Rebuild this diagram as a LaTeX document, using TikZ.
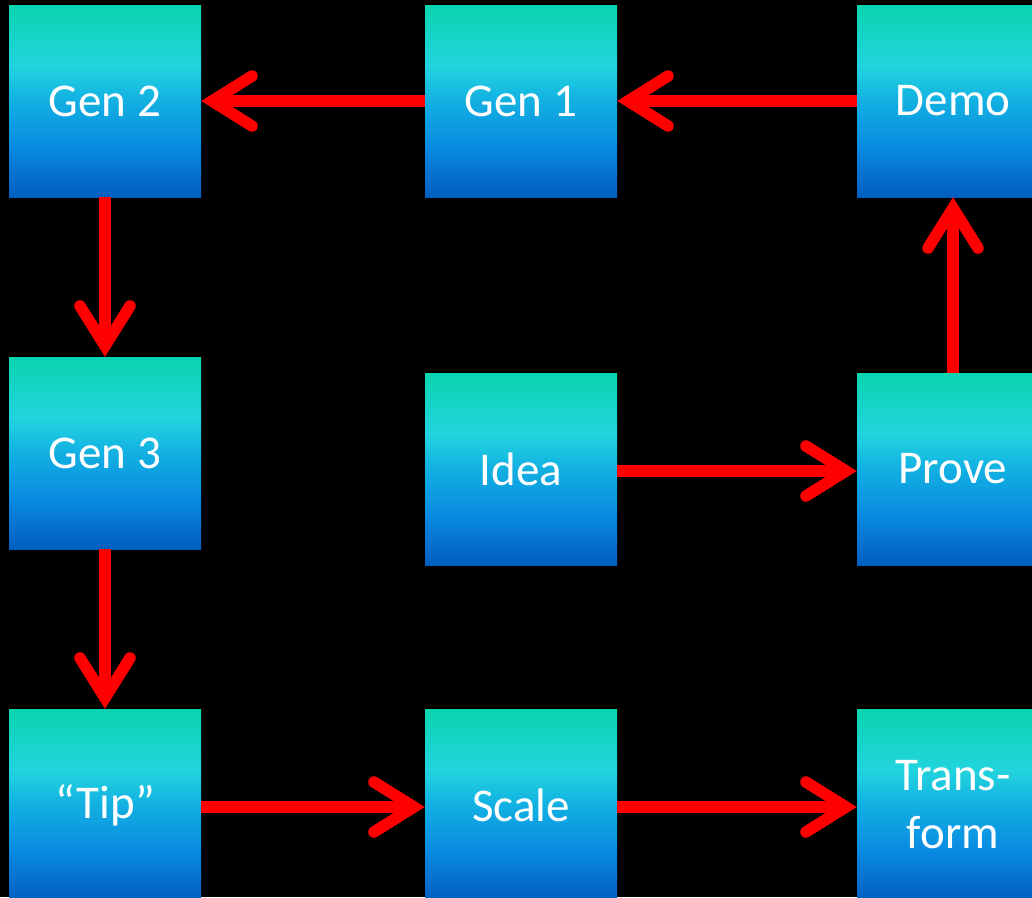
\documentclass[tikz,border=0pt]{standalone}
\usepackage{fontspec}
\setmainfont{Carlito}
\usetikzlibrary{arrows.meta}

% vertical colour ramp of the boxes, from bottom (25bp) to top (75bp)
\definecolor{gTop}{RGB}{10,212,176}
\definecolor{gCyan}{RGB}{34,212,222}
\definecolor{gMid}{RGB}{18,176,226}
\definecolor{gLow}{RGB}{8,136,226}
\definecolor{gBot}{RGB}{0,94,190}
\pgfdeclareverticalshading{boxgrad}{100bp}{%
  color(0bp)=(gBot); color(25bp)=(gBot); color(37.5bp)=(gLow);
  color(50bp)=(gMid); color(59bp)=(gCyan); color(75bp)=(gTop);
  color(100bp)=(gTop)}
\definecolor{arrowred}{RGB}{255,0,0}

\begin{document}
\begin{tikzpicture}[x=1pt,y=-1pt,
  stepbox/.style={shading=boxgrad, minimum width=192pt, minimum height=192pt,
    inner sep=0pt, text=white, font=\fontsize{47pt}{58pt}\selectfont,
    align=center},
  flow/.style={draw=arrowred, line width=11.5pt,
    -{Straight Barb[length=40pt, width=50pt, line cap=round, line join=miter]}}]
  \fill[black] (0,0) rectangle (1032,897);
  \useasboundingbox (0,0) rectangle (1032,897);
  \clip (0,0) rectangle (1032,897);

  \node[stepbox] (gen2)  at (105,101) {Gen 2};
  \node[stepbox] (gen1)  at (521,101) {Gen 1};
  \node[stepbox] (demo)  at (953,101) {Demo};
  \node[stepbox] (gen3)  at (105,453) {Gen 3};
  \node[stepbox] (idea)  at (521,469) {Idea};
  \node[stepbox] (prove) at (953,469) {Prove};
  \node[stepbox] (tip)   at (105,805) {“Tip”};
  \node[stepbox] (scale) at (521,805) {Scale};
  \node[stepbox] (trans) at (953,805) {Trans-\\form};

  \draw[flow] (gen1.west) -- (gen2.east);
  \draw[flow] (demo.west) -- (gen1.east);
  \draw[flow] (gen2.south) -- (gen3.north);
  \draw[flow] (gen3.south) -- (tip.north);
  \draw[flow] ([yshift=-2pt]idea.east) -- ([yshift=-2pt]prove.west);
  \draw[flow] (prove.north) -- (demo.south);
  \draw[flow] ([yshift=-2pt]tip.east) -- ([yshift=-2pt]scale.west);
  \draw[flow] ([yshift=-2pt]scale.east) -- ([yshift=-2pt]trans.west);
\end{tikzpicture}
\end{document}
